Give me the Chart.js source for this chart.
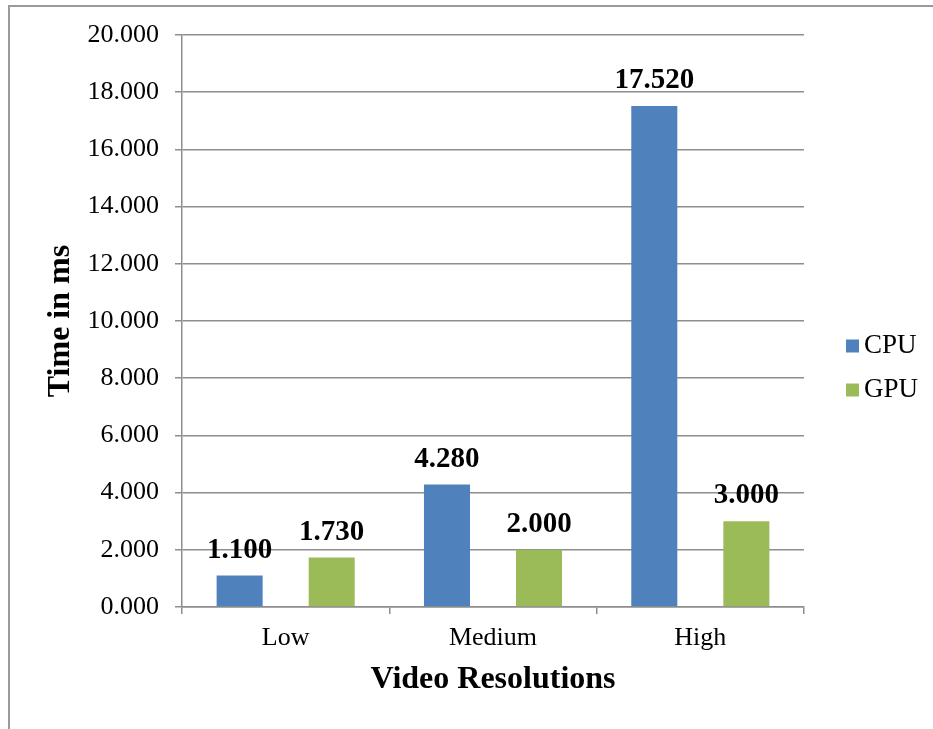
<!DOCTYPE html>
<html>
<head>
<meta charset="utf-8">
<script src="https://cdn.jsdelivr.net/npm/chart.js@4/dist/chart.umd.min.js"></script>
<style>
    html, body { margin: 0; padding: 0; background: #ffffff; overflow: hidden; }
    #wrap { position: relative; width: 933px; height: 729px; }
    #frame {
        position: absolute; left: 8px; top: 5px;
        width: 1000px; height: 1000px;
        border: 2px solid #9a9a9a; box-sizing: border-box;
        pointer-events: none;
    }
    canvas { position: absolute; left: 0; top: 0; }
</style>
</head>
<body>
<div id="wrap">
    <div id="frame"></div>
    <canvas id="resolutionChart" width="933" height="729"></canvas>
</div>
<script>
const resolutions = ["Low", "Medium", "High"];
const cpuTimes = [1.100, 4.280, 17.520];
const gpuTimes = [1.730, 2.000, 3.000];
const yTicks = [0, 2, 4, 6, 8, 10, 12, 14, 16, 18, 20];

const SERIF = "'Liberation Serif', 'Times New Roman', serif";
const GRID = "#8e8e8e";

// value labels above each bar
const barValueLabels = {
    id: "barValueLabels",
    afterDatasetsDraw(chart) {
        const ctx = chart.ctx;
        ctx.save();
        ctx.font = "bold 29px " + SERIF;
        ctx.fillStyle = "#000000";
        ctx.textAlign = "center";
        ctx.textBaseline = "alphabetic";
        chart.data.datasets.forEach((ds, i) => {
            chart.getDatasetMeta(i).data.forEach((bar, j) => {
                ctx.fillText(ds.data[j].toFixed(3), bar.x, bar.y - 18);
            });
        });
        ctx.restore();
    }
};

// legend on the right, square swatches
const sideLegend = {
    id: "sideLegend",
    afterDraw(chart) {
        const ctx = chart.ctx;
        ctx.save();
        ctx.font = "27px " + SERIF;
        ctx.textBaseline = "middle";
        ctx.textAlign = "left";
        chart.data.datasets.forEach((ds, i) => {
            const cy = 346 + i * 44;
            ctx.fillStyle = ds.backgroundColor;
            ctx.fillRect(846, cy - 6.5, 13, 13);
            ctx.fillStyle = "#000000";
            ctx.fillText(ds.label, 864, cy);
        });
        ctx.restore();
    }
};

new Chart(document.getElementById("resolutionChart"), {
    type: "bar",
    data: {
        labels: resolutions,
        datasets: [
            { label: "CPU", data: cpuTimes, backgroundColor: "#4f81bd" },
            { label: "GPU", data: gpuTimes, backgroundColor: "#9bbb59" }
        ]
    },
    options: {
        responsive: false,
        animation: false,
        devicePixelRatio: 1,
        categoryPercentage: 0.888,
        barPercentage: 0.5,
        layout: { padding: { top: 35, right: 129, bottom: 0, left: 0 } },
        plugins: {
            legend: { display: false },
            tooltip: { enabled: false }
        },
        scales: {
            x: {
                grid: {
                    offset: true,
                    drawOnChartArea: false,
                    drawTicks: true,
                    tickLength: 7,
                    color: GRID,
                    lineWidth: 1.5
                },
                border: { color: GRID, width: 1.5 },
                ticks: {
                    color: "#000000",
                    font: { family: SERIF, size: 26 },
                    padding: 9
                },
                title: {
                    display: true,
                    text: "Video Resolutions",
                    color: "#000000",
                    font: { family: SERIF, size: 32, weight: "bold" },
                    padding: { top: 0, bottom: 30 }
                },
                afterFit(scale) { scale.height = 122; }
            },
            y: {
                min: 0,
                max: 20,
                afterBuildTicks(scale) {
                    scale.ticks = yTicks.map(v => ({ value: v }));
                },
                grid: {
                    color: GRID,
                    lineWidth: 1.5,
                    drawTicks: true,
                    tickLength: 7
                },
                border: { color: GRID, width: 1.5 },
                ticks: {
                    color: "#000000",
                    font: { family: SERIF, size: 26 },
                    padding: 16,
                    callback: v => v.toFixed(3)
                },
                title: {
                    display: true,
                    text: "Time in ms",
                    color: "#000000",
                    font: { family: SERIF, size: 32, weight: "bold" },
                    padding: { top: 42, bottom: 0 }
                },
                afterFit(scale) { scale.width = 182; }
            }
        }
    },
    plugins: [barValueLabels, sideLegend]
});
</script>
</body>
</html>
